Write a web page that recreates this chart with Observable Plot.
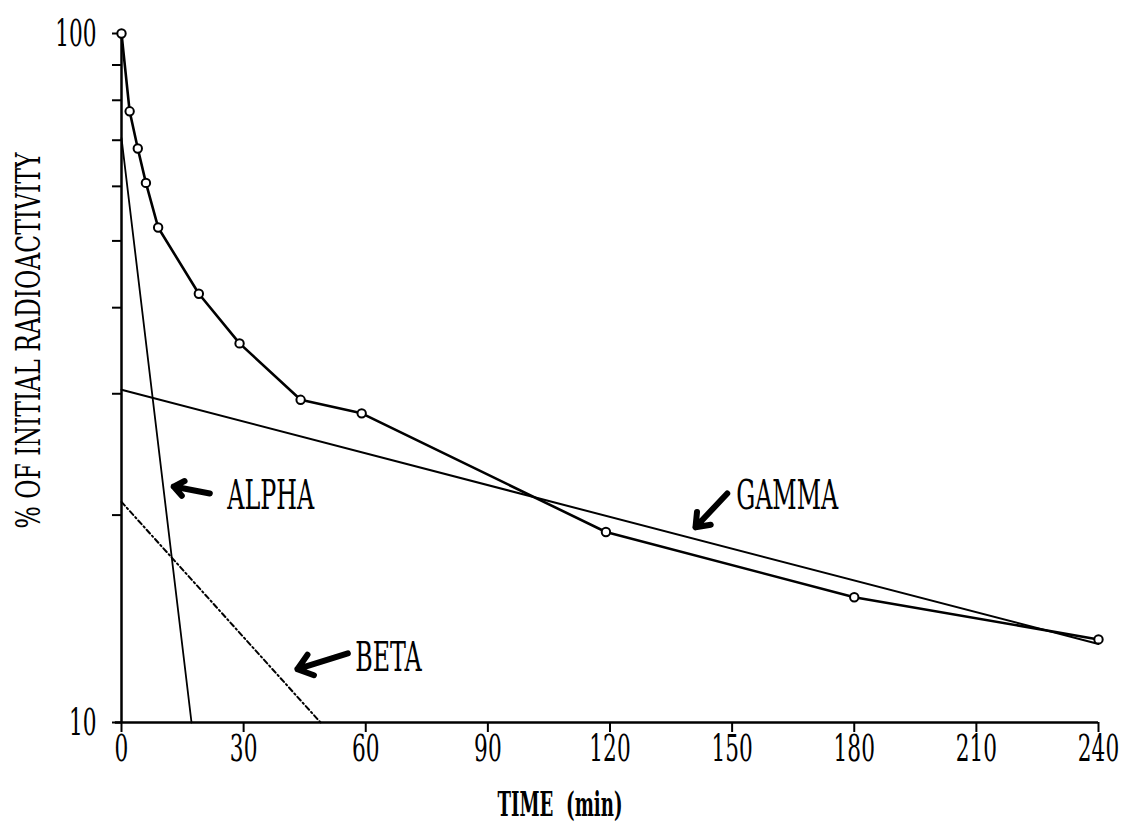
<!DOCTYPE html>
<html>
<head>
<meta charset="utf-8">
<script src="https://cdn.jsdelivr.net/npm/d3@7"></script>
<script src="https://cdn.jsdelivr.net/npm/@observablehq/plot@0.6"></script>
<style>
  html, body { margin: 0; padding: 0; background: #fff; }
  svg text { white-space: pre; }
</style>
</head>
<body>
<div id="chart"></div>
<script>
// Sampling times (min) and measured activity (% of initial)
const times = [0, 2, 4, 6, 9, 19, 29, 44, 59, 119, 180, 240];
const activity = [100, 77.1, 68.1, 60.7, 52.3, 41.9, 35.5, 29.4, 28.1, 18.9, 15.2, 13.2];

// Exponential components, given by their two end points (time, %)
const alphaTimes = [0, 17.2];
const alphaValues = [70.5, 10];
const betaTimes = [0, 48.9];
const betaValues = [20.9, 10];
const gammaTimes = [0, 240];
const gammaValues = [30.4, 13.0];

// Component labels and the arrows pointing at each line
const componentNames = ["ALPHA", "BETA", "GAMMA"];
const labelTimes = [26.0, 57.4, 151.0];
const labelValues = [21.3, 12.4, 21.3];
const arrowFromTimes = [21.7, 55.6, 148.8];
const arrowFromValues = [21.5, 12.6, 21.5];
const arrowToTimes = [12.8, 43.2, 141.0];
const arrowToValues = [22.0, 11.95, 19.2];

// Axes
const xTicks = [0, 30, 60, 90, 120, 150, 180, 210, 240];
const yTicks = [10, 20, 30, 40, 50, 60, 70, 80, 90, 100];
const yLabeled = [10, 100];
const xTitle = "TIME  (min)";
const yTitle = "% OF INITIAL RADIOACTIVITY";

const pairs = (ts, vs) => ts.map((t, i) => ({t, v: vs[i]}));
const curve = pairs(times, activity);
const alpha = pairs(alphaTimes, alphaValues);
const beta = pairs(betaTimes, betaValues);
const gamma = pairs(gammaTimes, gammaValues);
const labels = componentNames.map((name, i) => ({name, t: labelTimes[i], v: labelValues[i]}));
const arrows = componentNames.map((name, i) => ({
  t1: arrowFromTimes[i], v1: arrowFromValues[i],
  t2: arrowToTimes[i], v2: arrowToValues[i]
}));

const font = "DejaVu Serif";

const chart = Plot.plot({
  width: 1127,
  height: 827,
  marginLeft: 121,
  marginRight: 29,
  marginTop: 33,
  marginBottom: 105,
  style: {background: "#fff", color: "#000", fontFamily: font, overflow: "visible"},
  x: {domain: [0, 240]},
  y: {type: "log", domain: [10, 100]},
  marks: [
    // axis lines
    Plot.ruleY([10], {x1: -1.5, x2: 240, strokeWidth: 2.5}),
    Plot.ruleX([0], {y1: 10, y2: 100, strokeWidth: 2.5}),
    Plot.axisY({
      anchor: "left", ticks: yTicks, tickSize: 9, tickPadding: 16,
      tickFormat: d => yLabeled.includes(d) ? String(d) : "",
      strokeWidth: 2, fontSize: 38, fontFamily: font, label: null
    }),
    Plot.axisX({
      anchor: "bottom", ticks: xTicks, tickSize: 10, tickPadding: 2,
      tickFormat: d => String(d),
      strokeWidth: 2, fontSize: 38, fontFamily: font, label: null
    }),
    // fitted components
    Plot.line(alpha, {x: "t", y: "v", stroke: "#000", strokeWidth: 1.8}),
    Plot.line(beta, {x: "t", y: "v", stroke: "#000", strokeWidth: 2, strokeDasharray: "5,3,1.5,3"}),
    Plot.line(gamma, {x: "t", y: "v", stroke: "#000", strokeWidth: 2}),
    // measured curve
    Plot.line(curve, {x: "t", y: "v", stroke: "#000", strokeWidth: 2.6}),
    Plot.dot(curve, {x: "t", y: "v", r: 4.2, stroke: "#000", strokeWidth: 2, fill: "#fff"}),
    // annotations
    Plot.arrow(arrows, {x1: "t1", y1: "v1", x2: "t2", y2: "v2", stroke: "#000", strokeWidth: 6, headLength: 7, headAngle: 75}),
    Plot.text(labels, {x: "t", y: "v", text: "name", textAnchor: "start", lineAnchor: "middle", fontSize: 41, fill: "#000"}),
    // axis titles
    Plot.text([yTitle], {frameAnchor: "left", textAnchor: "middle", rotate: -90, dx: -92, dy: -37.5, fontSize: 34, fill: "#000", lineAnchor: "middle"}),
    Plot.text([xTitle], {frameAnchor: "bottom", textAnchor: "middle", dx: -50, dy: 93, fontSize: 34, fontWeight: "bold", fill: "#000", lineAnchor: "bottom"})
  ]
});

document.getElementById("chart").append(chart);

// Narrow the lettering into a tall condensed face
chart.querySelectorAll("text").forEach(el => {
  const content = el.textContent;
  if (!content) return;
  const len = el.getComputedTextLength();
  let target = len * 0.57;
  if (content === yTitle) target = 376;
  else if (content === xTitle) target = 125;
  else if (componentNames.includes(content)) target = len * 0.58;
  el.setAttribute("textLength", target.toFixed(1));
  el.setAttribute("lengthAdjust", "spacingAndGlyphs");
});
</script>
</body>
</html>
